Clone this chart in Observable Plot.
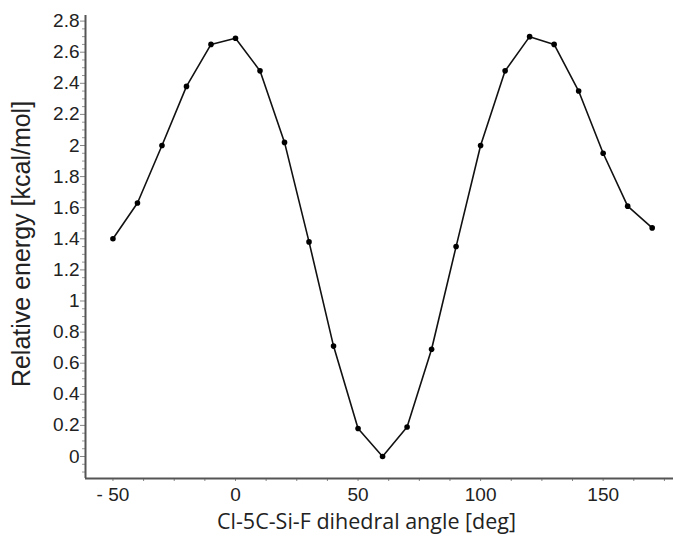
<!DOCTYPE html>
<html><head><meta charset="utf-8">
<script src="https://cdn.jsdelivr.net/npm/d3@7"></script>
<script src="https://cdn.jsdelivr.net/npm/@observablehq/plot@0.6"></script>
<style>body{margin:0;background:#fff}</style>
</head><body><div id="chart"></div>
<script>
const angles   = [-50,-40,-30,-20,-10,0,10,20,30,40,50,60,70,80,90,100,110,120,130,140,150,160,170];
const energies = [1.40,1.63,2.00,2.38,2.65,2.69,2.48,2.02,1.38,0.71,0.18,0.00,0.19,0.69,1.35,2.00,2.48,2.70,2.65,2.35,1.95,1.61,1.47];
const xTicks = [-50,0,50,100,150];
const xTickLabels = ["- 50","0","50","100","150"];
const xMinorTicks = [-37.5,-25,-12.5,12.5,25,37.5,62.5,75,87.5,112.5,125,137.5,162.5,175];
const yTicks = [0,0.2,0.4,0.6,0.8,1,1.2,1.4,1.6,1.8,2,2.2,2.4,2.6,2.8];
const yTickLabels = ["0","0.2","0.4","0.6","0.8","1","1.2","1.4","1.6","1.8","2","2.2","2.4","2.6","2.8"];
const yMinorTicks = d3.range(-0.1, 2.83, 0.05).map(v => +v.toFixed(2)).filter(v => !yTicks.includes(v));
const xTitle = "Cl-5C-Si-F dihedral angle [deg]";
const yTitle = "Relative energy [kcal/mol]";
const xDomain = [-61.2, 178.7];
const yDomain = [-0.1415, 2.836];

const data = angles.map((a, i) => ({angle: a, energy: energies[i]}));
const xLab = new Map(xTicks.map((t, i) => [t, xTickLabels[i]]));
const yLab = new Map(yTicks.map((t, i) => [t, yTickLabels[i]]));

const chart = Plot.plot({
  width: 673,
  height: 543,
  marginLeft: 85,
  marginRight: 0,
  marginTop: 15,
  marginBottom: 65,
  style: {fontFamily: "'Liberation Sans', Arial, sans-serif", background: "#fff"},
  x: {domain: xDomain, label: null},
  y: {domain: yDomain, label: null},
  marks: [
    Plot.axisX(xMinorTicks, {tickSize: 3, text: null, stroke: "#888", label: null}),
    Plot.axisX(xTicks, {tickSize: 3, tickPadding: 6, stroke: "#888", fontSize: 19, fill: "#222", label: null, tickFormat: d => xLab.get(d)}),
    Plot.axisY(yMinorTicks, {tickSize: 3, text: null, stroke: "#999", label: null}),
    Plot.axisY(yTicks, {tickSize: 5, tickPadding: 1, stroke: "#888", fontSize: 19, fill: "#222", label: null, tickFormat: d => yLab.get(d)}),
    Plot.ruleX([xDomain[0]], {stroke: "#555", strokeWidth: 2}),
    Plot.ruleY([yDomain[0]], {stroke: "#555", strokeWidth: 2}),
    Plot.line(data, {x: "angle", y: "energy", stroke: "#111", strokeWidth: 1.6}),
    Plot.dot(data, {x: "angle", y: "energy", r: 2.8, fill: "#000"}),
    Plot.text([xTitle], {frameAnchor: "bottom", textAnchor: "middle", dy: 50, dx: -13, fontSize: 21.5, fill: "#222", fontFamily: "'Open Sans', sans-serif"}),
    Plot.text([yTitle], {frameAnchor: "left", textAnchor: "middle", rotate: -90, dx: -64, dy: -3, fontSize: 25, fill: "#222", fontFamily: "'Liberation Sans', Arial, sans-serif"})
  ]
});
document.getElementById("chart").appendChild(chart);
</script>
</body></html>
